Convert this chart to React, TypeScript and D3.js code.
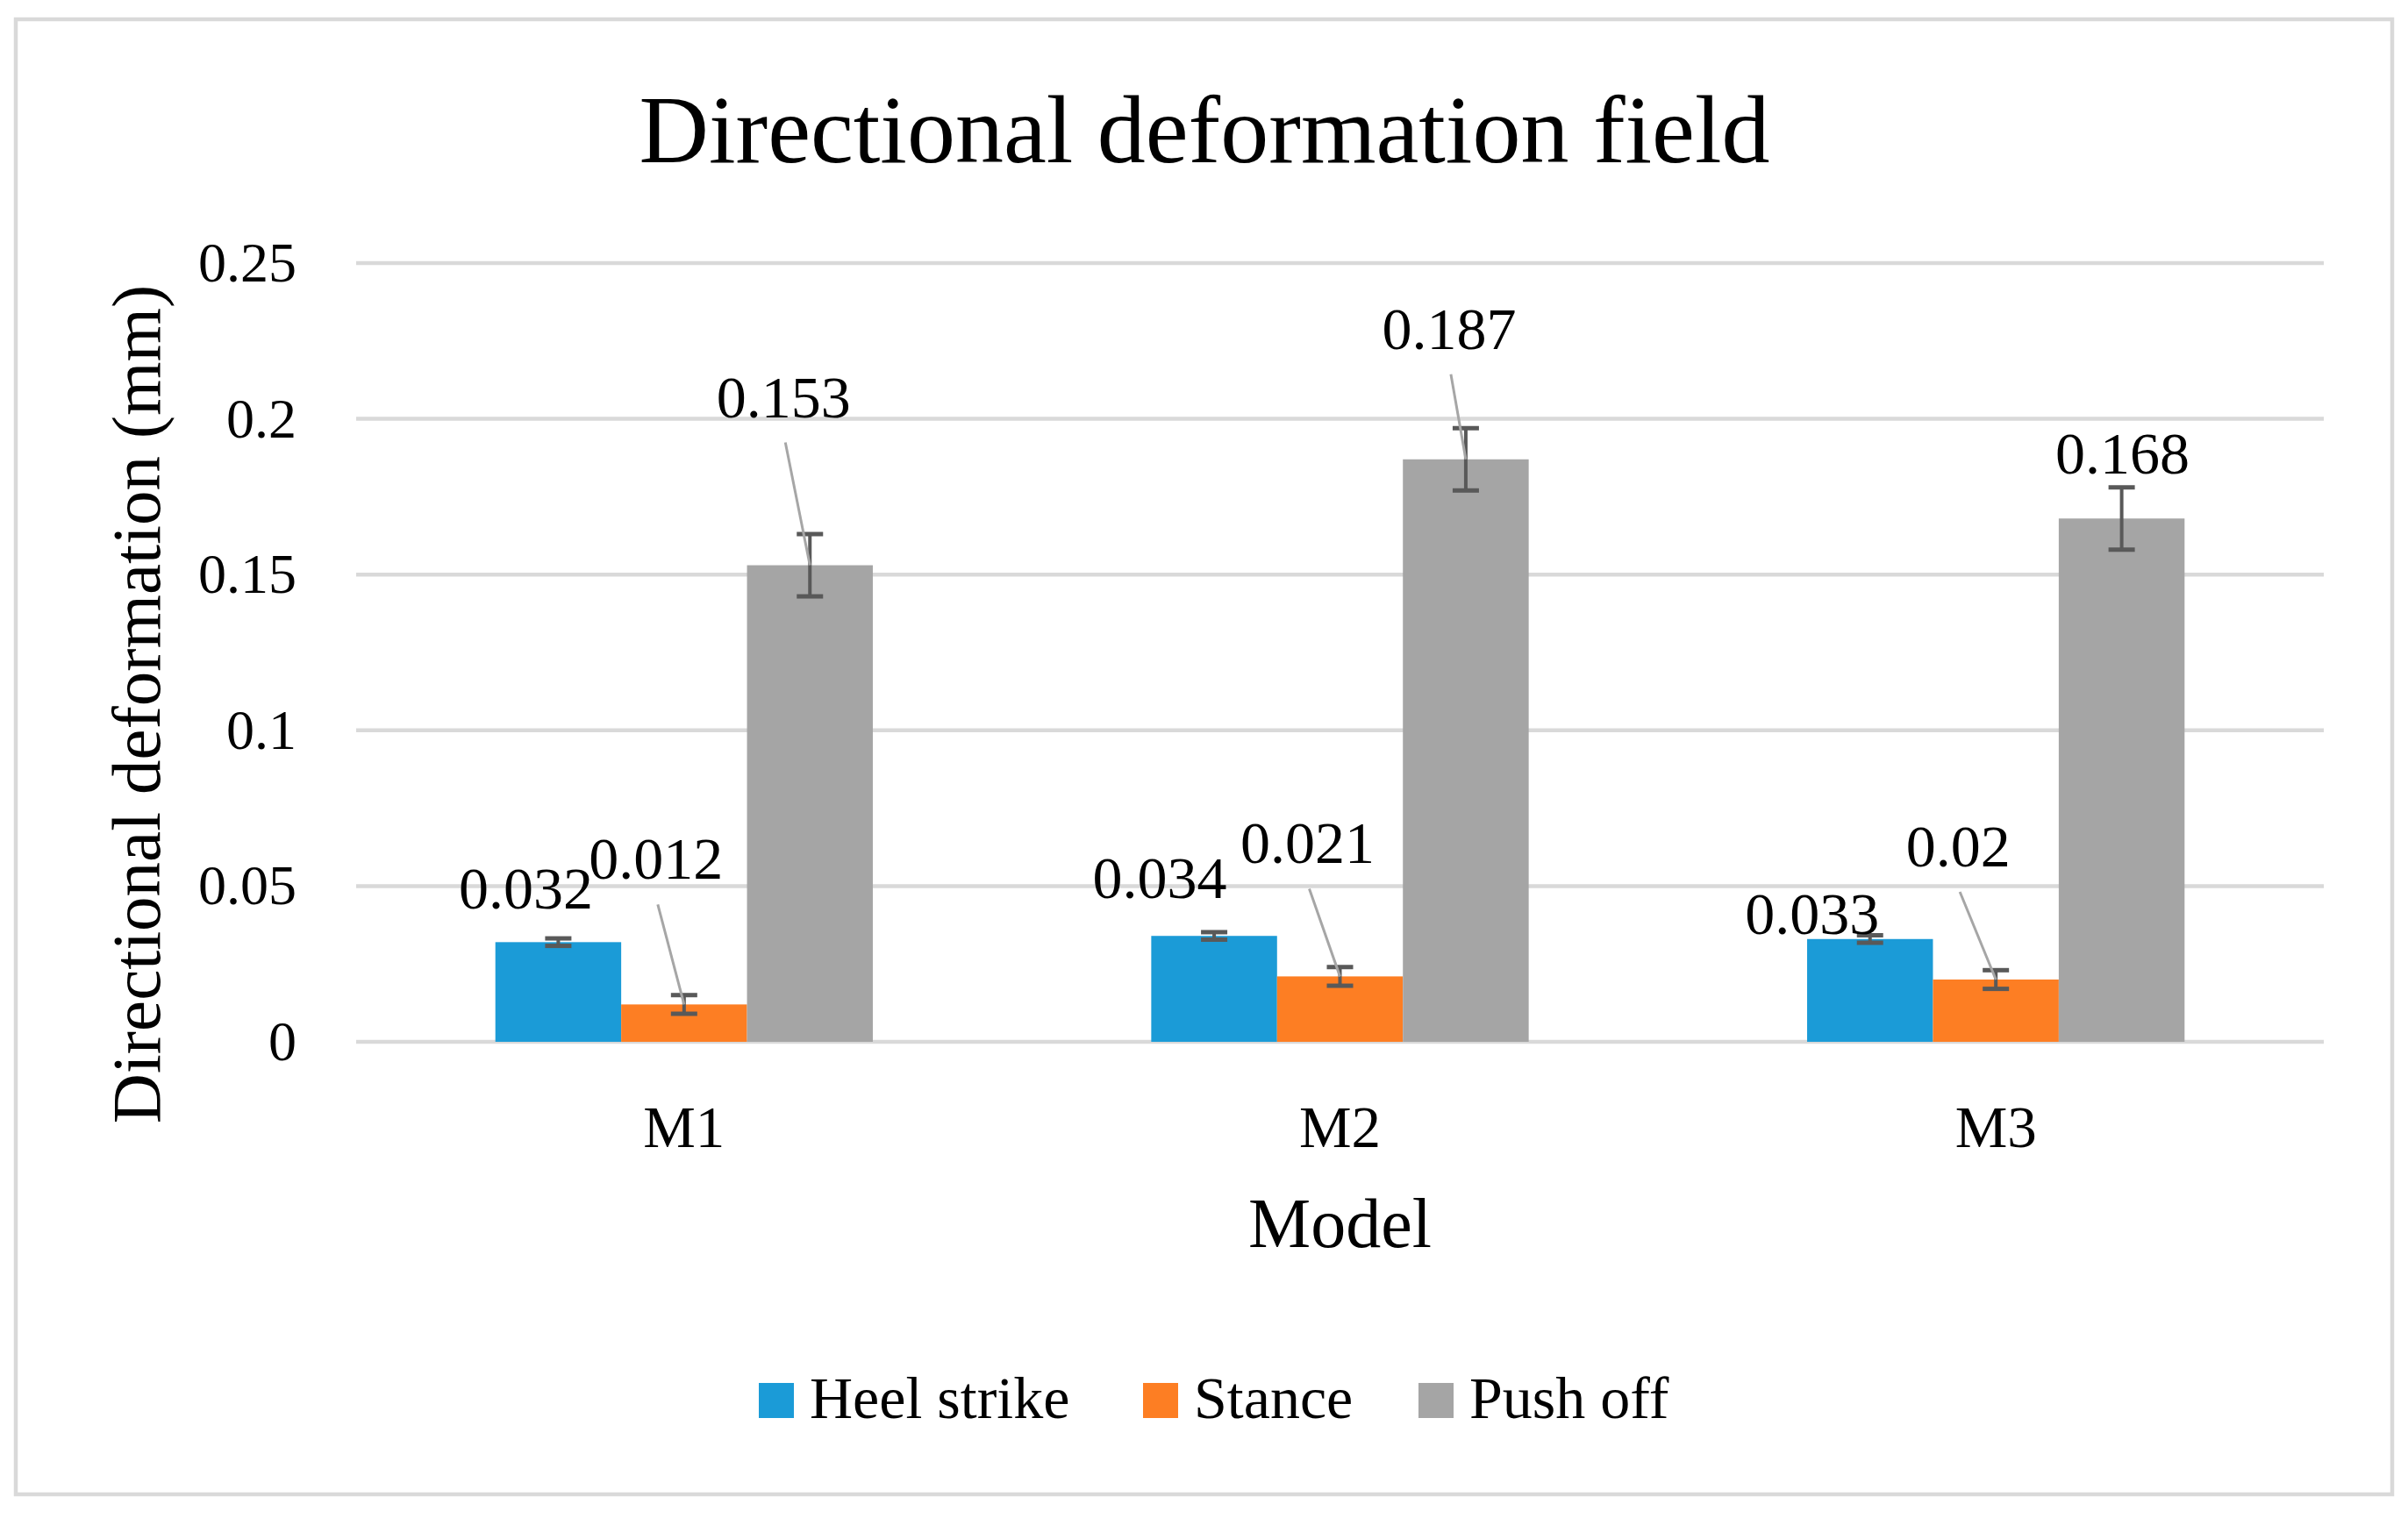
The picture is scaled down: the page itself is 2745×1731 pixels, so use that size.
import React from "react";
import * as d3 from "d3";

// ---- data ----
const categories = ["M1", "M2", "M3"];
const seriesNames = ["Heel strike", "Stance", "Push off"];
const heelStrike = [0.032, 0.034, 0.033];
const stance = [0.012, 0.021, 0.02];
const pushOff = [0.153, 0.187, 0.168];
const heelStrikeErr = [0.0012, 0.0012, 0.0012];
const stanceErr = [0.003, 0.003, 0.003];
const pushOffErr = [0.01, 0.01, 0.01];
const yTicks = [0, 0.05, 0.1, 0.15, 0.2, 0.25];
const yTickLabels = ["0", "0.05", "0.1", "0.15", "0.2", "0.25"];
const titleText = "Directional deformation field";
const xTitle = "Model";
const yTitle = "Directional deformation (mm)";

// ---- layout / style ----
const W = 2745;
const H = 1731;
const colors = ["#1B9BD7", "#FD7E23", "#A5A5A5"];
const FONT = "'Liberation Serif', 'Times New Roman', serif";
// manual data label placement (pixel offset of label baseline-centre from bar top-centre)
const labelOffsets = [
  [[-37, -38], [-62, -43], [-66, -6]],
  [[-32, -143], [-37, -129], [-43, -129]],
  [[-30, -169], [-19, -126], [1, -51]],
];
const leaderLines = [
  [false, false, false],
  [true, true, true],
  [true, true, false],
];
const legendX = [865, 1303, 1617];

export default function App() {
  const values = [heelStrike, stance, pushOff];
  const errs = [heelStrikeErr, stanceErr, pushOffErr];

  const x0 = d3
    .scaleBand<string>()
    .domain(categories)
    .range([406, 2649])
    .paddingInner(0.4245)
    .paddingOuter(0.21225);
  const x1 = d3
    .scaleBand<string>()
    .domain(seriesNames)
    .range([0, x0.bandwidth()]);
  const y = d3.scaleLinear().domain([0, 0.25]).range([1188, 300]);

  const plotLeft = 406;
  const plotRight = 2649;
  const capW = 30;

  return (
    <svg
      width={W}
      height={H}
      viewBox={`0 0 ${W} ${H}`}
      style={{ position: "absolute", left: 0, top: 0, display: "block", background: "#fff" }}
      fontFamily={FONT}
    >
      <rect x={0} y={0} width={W} height={H} fill="#fff" />
      <rect x={18} y={22} width={2709} height={1682} fill="#fff" stroke="#D9D9D9" strokeWidth={4.5} />

      <text x={1373} y={185} textAnchor="middle" fontSize={110} fill="#000">
        {titleText}
      </text>

      {/* gridlines */}
      {yTicks.map((t) => (
        <line
          key={"g" + t}
          x1={plotLeft}
          x2={plotRight}
          y1={y(t)}
          y2={y(t)}
          stroke="#D9D9D9"
          strokeWidth={4.5}
        />
      ))}

      {/* y tick labels */}
      {yTicks.map((t, i) => (
        <text key={"yt" + t} x={338} y={y(t) + 21} textAnchor="end" fontSize={64} fill="#000">
          {yTickLabels[i]}
        </text>
      ))}

      {/* bars */}
      {seriesNames.map((s, si) =>
        categories.map((c, ci) => {
          const bx = (x0(c) as number) + (x1(s) as number);
          const v = values[si][ci];
          return (
            <rect
              key={"b" + si + ci}
              x={bx}
              y={y(v)}
              width={x1.bandwidth()}
              height={y(0) - y(v)}
              fill={colors[si]}
            />
          );
        })
      )}

      {/* error bars */}
      {seriesNames.map((s, si) =>
        categories.map((c, ci) => {
          const cx = (x0(c) as number) + (x1(s) as number) + x1.bandwidth() / 2;
          const v = values[si][ci];
          const e = errs[si][ci];
          const yt = y(v + e);
          const yb = y(v - e);
          return (
            <g key={"e" + si + ci} stroke="#595959" strokeWidth={5}>
              <line x1={cx} x2={cx} y1={yt} y2={yb} strokeWidth={4} />
              <line x1={cx - capW / 2} x2={cx + capW / 2} y1={yt} y2={yt} />
              <line x1={cx - capW / 2} x2={cx + capW / 2} y1={yb} y2={yb} />
            </g>
          );
        })
      )}

      {/* leader lines */}
      {seriesNames.map((s, si) =>
        categories.map((c, ci) => {
          if (!leaderLines[si][ci]) return null;
          const cx = (x0(c) as number) + (x1(s) as number) + x1.bandwidth() / 2;
          const v = values[si][ci];
          const [dx, dy] = labelOffsets[si][ci];
          return (
            <line
              key={"l" + si + ci}
              x1={cx + dx + 2}
              y1={y(v) + dy + 29}
              x2={cx}
              y2={y(v)}
              stroke="#A6A6A6"
              strokeWidth={3}
            />
          );
        })
      )}

      {/* data labels */}
      {seriesNames.map((s, si) =>
        categories.map((c, ci) => {
          const cx = (x0(c) as number) + (x1(s) as number) + x1.bandwidth() / 2;
          const v = values[si][ci];
          const [dx, dy] = labelOffsets[si][ci];
          return (
            <text
              key={"t" + si + ci}
              x={cx + dx}
              y={y(v) + dy}
              textAnchor="middle"
              fontSize={68}
              fill="#000"
            >
              {String(v)}
            </text>
          );
        })
      )}

      {/* x tick labels */}
      {categories.map((c) => (
        <text
          key={"xt" + c}
          x={(x0(c) as number) + x0.bandwidth() / 2}
          y={1308}
          textAnchor="middle"
          fontSize={67}
          fill="#000"
        >
          {c}
        </text>
      ))}

      {/* axis titles */}
      <text x={(plotLeft + plotRight) / 2} y={1422} textAnchor="middle" fontSize={80} fill="#000">
        {xTitle}
      </text>
      <text
        transform={`translate(182, 803) rotate(-90)`}
        textAnchor="middle"
        fontSize={79}
        fill="#000"
      >
        {yTitle}
      </text>

      {/* legend */}
      {seriesNames.map((s, si) => (
        <g key={"lg" + si}>
          <rect x={legendX[si]} y={1577} width={40} height={40} fill={colors[si]} />
          <text x={legendX[si] + 58} y={1617} fontSize={68} fill="#000">
            {s}
          </text>
        </g>
      ))}
    </svg>
  );
}
